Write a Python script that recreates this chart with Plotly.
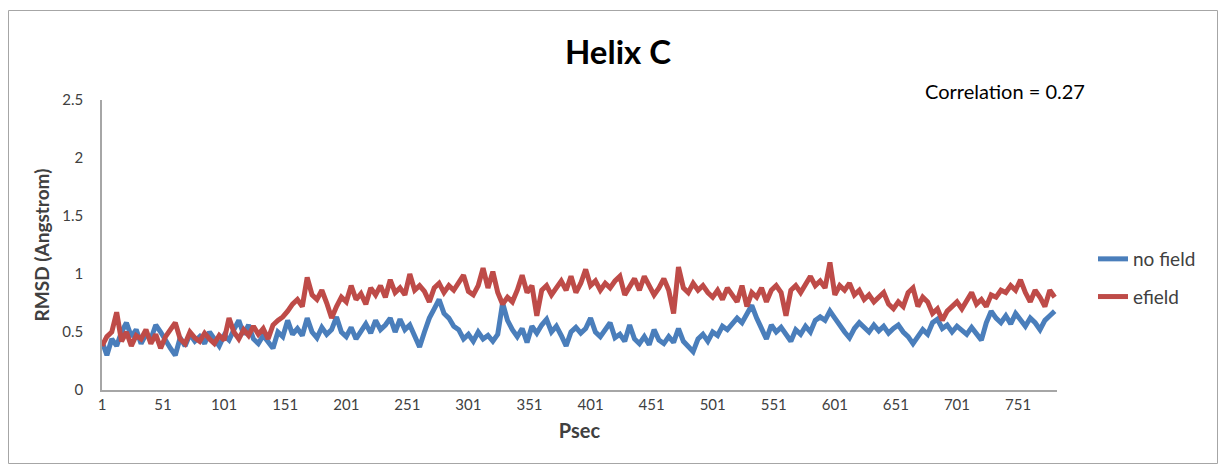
import plotly.graph_objects as go

# Sampled time points (Psec), every 4 steps
psec = list(range(1, 782, 4))

no_field = [
    0.42, 0.30, 0.44, 0.38, 0.50, 0.58, 0.46, 0.52, 0.40, 0.48,
    0.44, 0.56, 0.50, 0.42, 0.36, 0.30, 0.45, 0.38, 0.48, 0.42,
    0.46, 0.40, 0.50, 0.44, 0.38, 0.47, 0.43, 0.52, 0.60, 0.48,
    0.56, 0.44, 0.40, 0.47, 0.42, 0.36, 0.50, 0.46, 0.60, 0.48,
    0.53, 0.47, 0.62, 0.50, 0.45, 0.54, 0.48, 0.52, 0.63, 0.50,
    0.46, 0.54, 0.44, 0.50, 0.57, 0.49, 0.60, 0.52, 0.56, 0.62,
    0.50, 0.61, 0.52, 0.56, 0.46, 0.37, 0.50, 0.62, 0.70, 0.78,
    0.66, 0.62, 0.55, 0.52, 0.44, 0.48, 0.42, 0.50, 0.44, 0.47,
    0.42, 0.48, 0.75, 0.60, 0.52, 0.46, 0.53, 0.41, 0.55, 0.49,
    0.56, 0.61, 0.50, 0.55, 0.47, 0.38, 0.50, 0.54, 0.49, 0.53,
    0.62, 0.50, 0.46, 0.52, 0.58, 0.45, 0.48, 0.42, 0.56, 0.44,
    0.40, 0.46, 0.39, 0.52, 0.43, 0.40, 0.46, 0.41, 0.53, 0.42,
    0.38, 0.33, 0.44, 0.48, 0.42, 0.50, 0.47, 0.55, 0.52, 0.57,
    0.62, 0.58, 0.66, 0.73, 0.62, 0.52, 0.44, 0.56, 0.50, 0.54,
    0.47, 0.42, 0.52, 0.48, 0.55, 0.50, 0.60, 0.63, 0.60, 0.68,
    0.62, 0.55, 0.50, 0.45, 0.53, 0.58, 0.54, 0.50, 0.56, 0.51,
    0.55, 0.49, 0.53, 0.56, 0.50, 0.46, 0.40, 0.47, 0.52, 0.48,
    0.58, 0.61, 0.53, 0.56, 0.50, 0.55, 0.52, 0.48, 0.54, 0.49,
    0.43, 0.58, 0.68, 0.62, 0.58, 0.64, 0.57, 0.66, 0.60, 0.55,
    0.62, 0.58, 0.52, 0.60, 0.64, 0.68,
]

efield = [
    0.38, 0.46, 0.50, 0.67, 0.42, 0.50, 0.38, 0.47, 0.44, 0.52,
    0.40, 0.48, 0.36, 0.46, 0.52, 0.58, 0.44, 0.40, 0.50, 0.45,
    0.42, 0.49, 0.44, 0.40, 0.47, 0.43, 0.62, 0.50, 0.44, 0.52,
    0.47, 0.55, 0.48, 0.53, 0.44, 0.56, 0.60, 0.63, 0.68, 0.74,
    0.78, 0.72, 0.97, 0.82, 0.78, 0.86, 0.75, 0.62, 0.72, 0.80,
    0.76, 0.90, 0.78, 0.83, 0.74, 0.88, 0.82, 0.90, 0.80, 0.95,
    0.84, 0.88, 0.82, 1.00, 0.86, 0.90, 0.85, 0.76, 0.88, 0.92,
    0.84, 0.90, 0.86, 0.92, 0.99, 0.85, 0.82, 0.90, 1.05, 0.88,
    1.02, 0.84, 0.74, 0.80, 0.76, 0.86, 0.99, 0.84, 0.90, 0.64,
    0.86, 0.90, 0.82, 0.88, 0.94, 0.86, 0.98, 0.84, 0.92, 1.04,
    0.90, 0.94, 0.86, 0.92, 0.88, 0.94, 0.98, 0.82, 0.90, 0.96,
    0.86, 0.98, 0.90, 0.82, 0.88, 0.96, 0.86, 0.66, 1.06, 0.88,
    0.84, 0.92, 0.86, 0.90, 0.84, 0.80, 0.86, 0.78, 0.88, 0.82,
    0.76, 0.90, 0.72, 0.84, 0.80, 0.88, 0.76, 0.86, 0.90, 0.84,
    0.64, 0.86, 0.90, 0.84, 0.92, 0.98, 0.90, 0.94, 0.88, 1.10,
    0.82, 0.90, 0.86, 0.92, 0.82, 0.86, 0.78, 0.82, 0.76, 0.80,
    0.84, 0.74, 0.70, 0.76, 0.72, 0.84, 0.88, 0.72, 0.80, 0.76,
    0.66, 0.70, 0.60, 0.68, 0.72, 0.76, 0.70, 0.78, 0.84, 0.74,
    0.78, 0.72, 0.82, 0.80, 0.86, 0.84, 0.90, 0.86, 0.95, 0.84,
    0.76, 0.86, 0.80, 0.72, 0.86, 0.80,
]

x_ticks = list(range(1, 752, 50))
y_ticks = [0, 0.5, 1, 1.5, 2, 2.5]
y_tick_text = ["0", "0.5", "1", "1.5", "2", "2.5"]

FONT = "Lato, 'Open Sans', sans-serif"
TXT = "#404040"

fig = go.Figure()
fig.add_trace(go.Scatter(x=psec, y=no_field, mode="lines", name="no field",
                         legendgroup="a",
                         line=dict(color="#4A7EBB", width=5)))
fig.add_trace(go.Scatter(x=psec, y=efield, mode="lines", name="efield",
                         legendgroup="b",
                         line=dict(color="#BE4B48", width=5)))

# page body has an 8px margin; figure coordinates = screen - 8
OFF = 8
W, H = 1210, 456
L, T = 102 - OFF, 100 - OFF
pw, ph = 955, 290
R = W - L - pw
B = H - T - ph


def px(sx):
    return (sx - OFF - L) / pw


def py(sy):
    return (T + ph - (sy - OFF)) / ph


fig.update_layout(
    width=W, height=H,
    margin=dict(l=L, r=R, t=T, b=B),
    paper_bgcolor="white", plot_bgcolor="white",
    font=dict(family=FONT, size=15, color=TXT),
    title=dict(text="<b>Helix C</b>", x=(618 - OFF) / W, xref="container",
               xanchor="center",
               y=1 - (52 - OFF) / H, yref="container", yanchor="middle",
               font=dict(family=FONT, size=33, color="black")),
    showlegend=True,
    legend=dict(x=px(1093), y=py(240), xanchor="left", yanchor="top",
                font=dict(family=FONT, size=19, color=TXT),
                tracegroupgap=10, bgcolor="rgba(0,0,0,0)"),
    xaxis=dict(range=[1, 782.9], tickmode="array", tickvals=x_ticks,
               ticktext=[str(v) for v in x_ticks], showgrid=False,
               zeroline=False, showline=True, linecolor="#A6A6A6", linewidth=1.5,
               ticks="", tickfont=dict(family=FONT, size=15, color=TXT),
               title=dict(text="<b>Psec</b>", standoff=12,
                          font=dict(family=FONT, size=20, color=TXT))),
    yaxis=dict(range=[0, 2.5], tickmode="array", tickvals=y_ticks,
               ticktext=y_tick_text, showgrid=False,
               zeroline=False, showline=True, linecolor="#A6A6A6", linewidth=1.5,
               ticks="", ticklabelstandoff=14,
               tickfont=dict(family=FONT, size=15, color=TXT),
               title=dict(text="<b>RMSD (Angstrom)</b>", standoff=8,
                          font=dict(family=FONT, size=19, color=TXT))),
    annotations=[dict(text="Correlation = 0.27", xref="paper", yref="paper",
                      x=px(1005), y=py(91), xanchor="center", yanchor="middle",
                      showarrow=False,
                      font=dict(family=FONT, size=20, color="black"))],
    shapes=[dict(type="rect", xref="paper", yref="paper",
                 x0=px(8.5), x1=px(1217.5), y0=py(463.5), y1=py(10.5),
                 line=dict(color="#A6A6A6", width=1), layer="below")],
)

fig.write_html("out.html")
